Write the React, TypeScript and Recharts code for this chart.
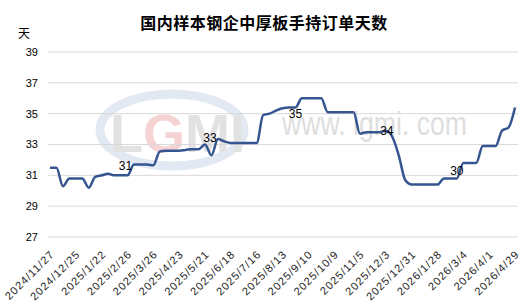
import React from "react";
import { LineChart, Line, XAxis, YAxis, CartesianGrid, LabelList } from "recharts";

const dates = [
  "2024/11/27", "2024/12/4", "2024/12/11", "2024/12/18",
  "2024/12/25", "2025/1/1", "2025/1/8", "2025/1/15",
  "2025/1/22", "2025/2/5", "2025/2/12", "2025/2/19",
  "2025/2/26", "2025/3/5", "2025/3/12", "2025/3/19",
  "2025/3/26", "2025/4/2", "2025/4/9", "2025/4/16",
  "2025/4/23", "2025/4/30", "2025/5/7", "2025/5/14",
  "2025/5/21", "2025/5/28", "2025/6/4", "2025/6/11",
  "2025/6/18", "2025/6/25", "2025/7/2", "2025/7/9",
  "2025/7/16", "2025/7/23", "2025/7/30", "2025/8/6",
  "2025/8/13", "2025/8/20", "2025/8/27", "2025/9/3",
  "2025/9/10", "2025/9/17", "2025/9/24", "2025/9/30",
  "2025/10/9", "2025/10/15", "2025/10/22", "2025/10/29",
  "2025/11/5", "2025/11/12", "2025/11/19", "2025/11/26",
  "2025/12/3", "2025/12/10", "2025/12/17", "2025/12/24",
  "2025/12/31", "2026/1/7", "2026/1/14", "2026/1/21",
  "2026/1/28", "2026/2/4", "2026/2/11", "2026/2/25",
  "2026/3/4", "2026/3/11", "2026/3/18", "2026/3/25",
  "2026/4/1", "2026/4/8", "2026/4/15", "2026/4/22",
  "2026/4/29",
];

const days = [
  31.5, 31.5, 30.3, 30.8,
  30.8, 30.8, 30.2, 30.9,
  31.0, 31.1, 31.0, 31.0,
  31.0, 31.7, 31.7, 31.7,
  31.65, 32.55, 32.6, 32.6,
  32.6, 32.65, 32.7, 32.7,
  33.0, 32.3, 33.35, 33.2,
  33.1, 33.1, 33.1, 33.1,
  33.1, 34.9, 35.0, 35.2,
  35.35, 35.4, 35.4, 36.0,
  36.0, 36.0, 36.0, 35.1,
  35.1, 35.1, 35.1, 35.1,
  33.7, 33.8, 33.8, 33.8,
  33.9, 33.5, 32.3, 30.7,
  30.4, 30.4, 30.4, 30.4,
  30.4, 30.8, 30.8, 30.8,
  31.8, 31.8, 31.8, 32.9,
  32.9, 32.9, 33.9, 34.1,
  35.4,
];

const yTicks = [27, 29, 31, 33, 35, 37, 39];

// data labels shown on the line
const labelIndex = [12, 24, 38, 52, 63];
const labelText = ["31", "33", "35", "34", "30"];

// nudges so labels sit where the original put them
const labelNudge: Record<number, [number, number]> = {
  12: [-2, -9],
  24: [5, -7],
  38: [0, 6],
  52: [1, 0],
  63: [0, -7],
};

const data = dates.map((d, i) => ({ date: d, value: days[i] }));

const DateTick = ({ x, y, payload }: any) => (
  <g transform={`translate(${x + 5},${y + 18})`}>
    <text
      x={0}
      y={0}
      textAnchor="end"
      transform="rotate(-45)"
      fontSize={11}
      letterSpacing={1}
      fontFamily="Liberation Sans, Arial, sans-serif"
      fill="#222"
    >
      {payload.value}
    </text>
  </g>
);

const PointLabel = (props: any) => {
  const { x, y, index } = props;
  const k = labelIndex.indexOf(index);
  if (k < 0) return null;
  const [dx, dy] = labelNudge[index] || [0, -8];
  return (
    <text
      x={x + dx}
      y={y + dy}
      textAnchor="middle"
      dominantBaseline="central"
      fontSize={12}
      fontFamily="Liberation Sans, Arial, sans-serif"
      fill="#000"
    >
      {labelText[k]}
    </text>
  );
};

function Watermark() {
  return (
    <svg width={526} height={308} style={{ position: "absolute", left: 0, top: 0 }}>
      <text
        x={264}
        y={29}
        textAnchor="middle"
        fontSize={16}
        fontWeight="bold"
        fontFamily="Noto Sans CJK SC, sans-serif"
        fill="#000"
        letterSpacing={0.5}
      >
        国内样本钢企中厚板手持订单天数
      </text>
      <text x={24} y={38} textAnchor="middle" fontSize={12} fontFamily="Noto Sans CJK SC, sans-serif" fill="#000">
        天
      </text>
      <ellipse cx={172} cy={130} rx={72} ry={36} fill="none" stroke="#e3e9f2" strokeWidth={9} />
      <text x={110} y={152} fontSize={54} fontWeight="bold" fontFamily="Liberation Sans, Arial, sans-serif" fill="#e2e2e2">
        L<tspan fill="#f5d3d3">G</tspan>MI
      </text>
      <text
        x={282}
        y={135}
        fontSize={34}
        fontFamily="Liberation Sans, Arial, sans-serif"
        fill="#dedede"
        textLength={185}
        lengthAdjust="spacingAndGlyphs"
      >
        www. lgmi. com
      </text>
    </svg>
  );
}

export default function App() {
  return (
    <div style={{ position: "absolute", left: 0, top: 0, width: 526, height: 308, background: "#fff" }}>
      <Watermark />
      <div style={{ position: "absolute", left: 0, top: 0 }}>
        <LineChart width={526} height={308} data={data} margin={{ top: 52, right: 8, bottom: 0, left: 0 }}>
          <CartesianGrid horizontal vertical={false} stroke="#d9d9d9" strokeWidth={1} />
          <XAxis
            dataKey="date"
            interval={3}
            height={71}
            axisLine={false}
            tickLine={false}
            tickSize={0}
            tickMargin={0}
            padding={{ left: 2, right: 3 }}
            tick={<DateTick />}
          />
          <YAxis
            width={48}
            domain={[27, 39]}
            ticks={yTicks}
            axisLine={false}
            tickLine={false}
            tickSize={0}
            tickMargin={10}
            tick={{ fontSize: 11, fill: "#000", fontFamily: "Liberation Sans, Arial, sans-serif" }}
          />
          <Line
            type="monotone"
            dataKey="value"
            stroke="#34558f"
            strokeWidth={2.5}
            dot={false}
            isAnimationActive={false}
          >
            <LabelList dataKey="value" content={<PointLabel />} />
          </Line>
        </LineChart>
      </div>
    </div>
  );
}
